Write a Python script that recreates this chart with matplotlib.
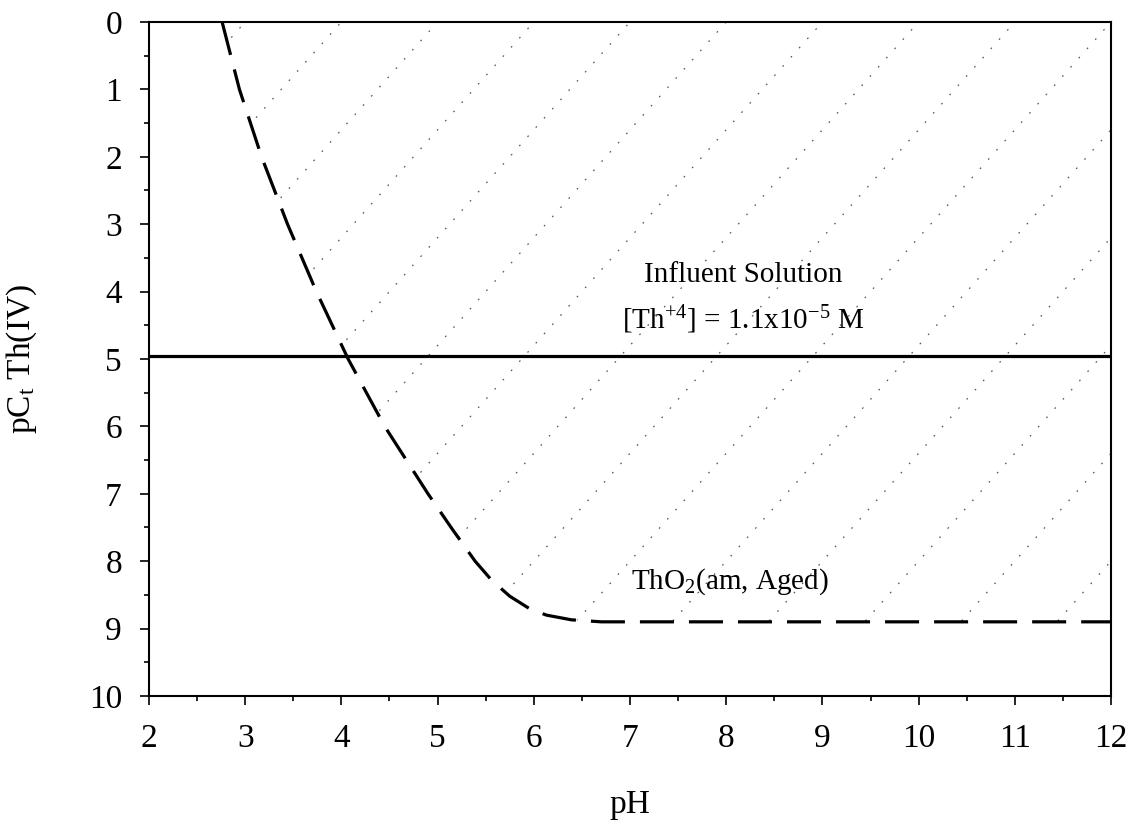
import matplotlib
matplotlib.use("Agg")
import matplotlib.pyplot as plt
import numpy as np
from matplotlib.patches import Polygon
from matplotlib.ticker import MultipleLocator

plt.rcParams['font.family'] = ['Liberation Serif', 'DejaVu Serif']
plt.rcParams['mathtext.fontset'] = 'custom'
plt.rcParams['mathtext.rm'] = 'Liberation Serif'
plt.rcParams['mathtext.it'] = 'Liberation Serif'
plt.rcParams['lines.scale_dashes'] = False

# ThO2(am, aged) solubility curve
ph_curve = [2.76, 2.94, 3.17, 3.44, 3.74, 4.07, 4.45, 4.90, 5.15, 5.39, 5.56, 5.75, 5.95,
            6.13, 6.39, 6.7, 7.0, 8.0, 9.0, 10.0, 11.0, 12.0]
pc_curve = [0.0, 1.0, 2.0, 3.0, 4.0, 5.0, 6.0, 7.0, 7.52, 8.0, 8.28, 8.52, 8.7,
            8.8, 8.87, 8.9, 8.9, 8.9, 8.9, 8.9, 8.9, 8.9]

influent_conc = 1.1e-5
influent_pc = -np.log10(influent_conc)

hatch_offsets = list(range(3, 22))
hatch_slope = 1.6

fig = plt.figure(figsize=(11.33, 8.32), dpi=100)
ax = fig.add_axes([0.1315, 0.1635, 0.8491, 0.8101])

# hatched region between pC = 0 and the solubility curve
region = Polygon(np.column_stack([ph_curve + [12.0, ph_curve[0]],
                                  pc_curve + [0.0, 0.0]]),
                 closed=True, facecolor='none', edgecolor='none',
                 transform=ax.transData)
ax.add_patch(region)
xx = np.array([2.0, 12.0])
for n in hatch_offsets:
    ln, = ax.plot(xx, hatch_slope * (n - xx), color='0.35', lw=0.9,
                  dashes=(1.2, 7.7), zorder=1)
    ln.set_clip_path(region)

ax.plot(ph_curve, pc_curve, color='black', lw=2.3, dashes=(24.5, 10.8), zorder=3)
ax.axhline(influent_pc, color='black', lw=2.3, zorder=3)

ax.text(8.18, 3.75, 'Influent Solution', ha='center', va='center', fontsize=21)
ax.text(8.18, 4.42, r'[Th$^{+4}$] = 1.1x10$^{-5}$ M', ha='center', va='center', fontsize=21)
ax.text(8.04, 8.3, r'ThO$_2$(am, Aged)', ha='center', va='center', fontsize=21)

ax.set_xlim(2, 12)
ax.set_ylim(10, 0)
ax.xaxis.set_major_locator(MultipleLocator(1))
ax.xaxis.set_minor_locator(MultipleLocator(0.5))
ax.yaxis.set_major_locator(MultipleLocator(1))
ax.yaxis.set_minor_locator(MultipleLocator(0.5))
ax.tick_params(which='both', direction='out', top=False, right=False,
               width=1.2, labelsize=24)
ax.tick_params(which='major', length=6.5, pad=13)
ax.tick_params(which='minor', length=3.5)
for s in ax.spines.values():
    s.set_linewidth(1.5)

ax.set_xlabel('pH', fontsize=24, labelpad=26)
ax.set_ylabel(r'pC$_{\rm t}$ Th(IV)', fontsize=24, labelpad=36)

fig.savefig('out.png', dpi=100)
